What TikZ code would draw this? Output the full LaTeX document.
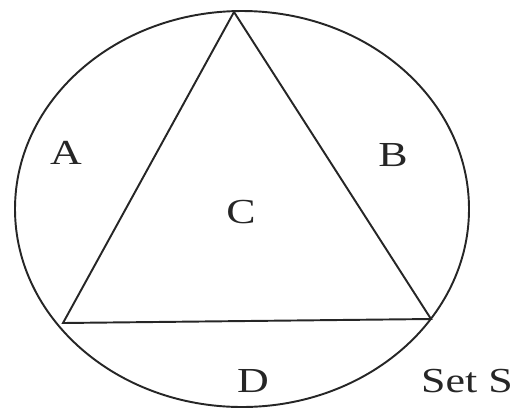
\documentclass[tikz,border=0pt]{standalone}
\usepackage{fontspec}
\setmainfont{Liberation Serif}
\usepackage{tikz}
\usetikzlibrary{positioning,calc}

\begin{document}
\begin{tikzpicture}[
  x=0.02cm, y=-0.02cm,
  edge/.style={line width=1.1pt, black!85},
  lbl/.style={font=\fontsize{20}{23}\selectfont, text=black!85, inner sep=0pt, xscale=1.25, transform shape}
]
\useasboundingbox (0,0) rectangle (516,413);
% set S and triangle
\draw[edge] (242,209) ellipse [x radius=227, y radius=198];
\coordinate (top) at (234,12);
\coordinate (bl) at (63,323);
\coordinate (br) at (431,319);
\draw[edge] (top) -- (bl) -- (br) -- cycle;
% regions
\node[lbl] (a) at (66,153) {A};
\node[lbl] (b) at (393,155) {B};
\node[lbl] (c) at (241,212) {C};
\node[lbl] (d) at (253,381) {D};
\node[lbl] (s) at (467,381) {Set S};
\end{tikzpicture}
\end{document}
